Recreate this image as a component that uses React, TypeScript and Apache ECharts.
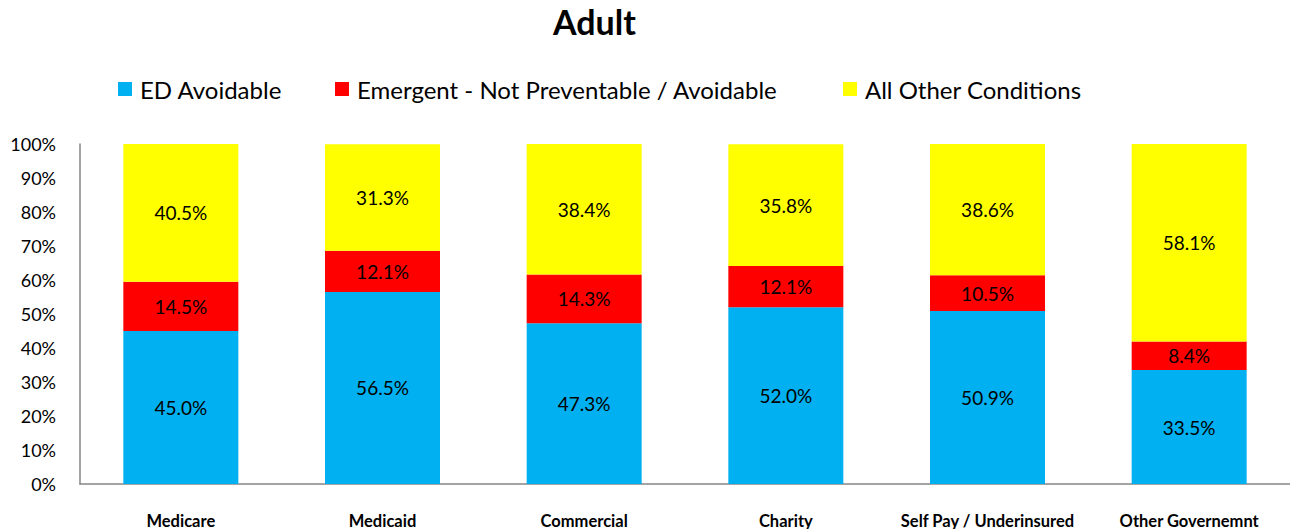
import React, { useEffect, useRef } from "react";
import * as echarts from "echarts";

const categories = [
  "Medicare",
  "Medicaid",
  "Commercial",
  "Charity",
  "Self Pay / Underinsured",
  "Other Governemnt",
];
const edAvoidable = [45.0, 56.5, 47.3, 52.0, 50.9, 33.5];
const emergent = [14.5, 12.1, 14.3, 12.1, 10.5, 8.4];
const allOther = [40.5, 31.3, 38.4, 35.8, 38.6, 58.1];

const seriesNames = [
  "ED Avoidable",
  "Emergent - Not Preventable / Avoidable",
  "All Other Conditions",
];
const seriesColors = ["#00B0F0", "#FF0000", "#FFFF00"];
const seriesValues = [edAvoidable, emergent, allOther];
const legendLefts = [118, 335, 843];

const FONT = "Lato, 'Open Sans', sans-serif";

export default function App() {
  const ref = useRef<HTMLDivElement>(null);

  useEffect(() => {
    document.body.style.margin = "0";
    if (!ref.current) return;
    const chart = echarts.init(ref.current, null, { renderer: "svg" });
    chart.setOption({
      animation: false,
      backgroundColor: "#ffffff",
      textStyle: { fontFamily: FONT, color: "#000" },
      title: {
        text: "Adult",
        left: 553,
        top: 4,
        padding: 0,
        textStyle: { fontFamily: FONT, fontSize: 34, fontWeight: "bold", color: "#000" },
      },
      legend: seriesNames.map((name, i) => ({
        data: [name],
        left: legendLefts[i],
        top: 77,
        icon: "rect",
        itemWidth: 14,
        itemHeight: 14,
        padding: 0,
        textStyle: {
          fontFamily: FONT,
          fontSize: 24,
          color: "#000",
          padding: [0, 0, 0, 3],
        },
      })),
      grid: { left: 80, right: 0, top: 144, bottom: 45 },
      xAxis: {
        type: "category",
        data: categories,
        axisLine: { show: true, lineStyle: { color: "#868686", width: 1.5 } },
        axisTick: { show: false },
        axisLabel: {
          interval: 0,
          margin: 28,
          fontFamily: FONT,
          fontSize: 16.5,
          fontWeight: "bold",
          color: "#000",
        },
      },
      yAxis: {
        type: "value",
        min: 0,
        max: 100,
        interval: 10,
        axisLine: { show: true, lineStyle: { color: "#868686", width: 1.5 } },
        axisTick: { show: false },
        splitLine: { show: false },
        axisLabel: {
          margin: 24,
          fontFamily: FONT,
          fontSize: 18,
          color: "#000",
          formatter: "{value}%",
        },
      },
      series: seriesNames.map((name, i) => ({
        name,
        type: "bar",
        stack: "total",
        barWidth: 115,
        data: seriesValues[i],
        itemStyle: { color: seriesColors[i] },
        label: {
          show: true,
          position: "inside",
          fontFamily: FONT,
          fontSize: 19,
          color: "#000",
          formatter: (p: any) => Number(p.value).toFixed(1) + "%",
        },
      })),
    });
    return () => chart.dispose();
  }, []);

  return <div ref={ref} style={{ width: 1290, height: 529 }} />;
}
